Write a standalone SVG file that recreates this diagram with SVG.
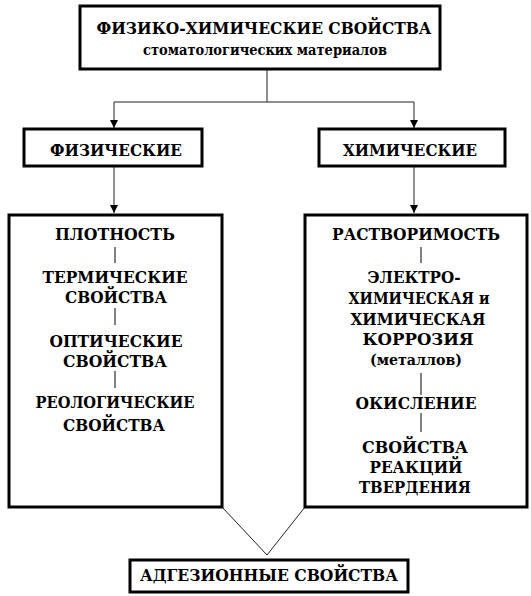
<svg xmlns="http://www.w3.org/2000/svg" width="531" height="596" viewBox="0 0 531 596">
<style>
.box{fill:#fff;stroke:#000;stroke-width:3}
.ln{fill:none;stroke:#222;stroke-width:1}
.sep{fill:none;stroke:#000;stroke-width:1}
.t,.s{font-family:"DejaVu Serif","Liberation Serif",serif;font-weight:bold;text-anchor:middle;fill:#000}
.t{font-size:17px}
.s{font-size:15px}
</style>
<defs>
<marker id="ar" viewBox="0 0 10 10" refX="10" refY="5" markerWidth="8" markerHeight="8" markerUnits="userSpaceOnUse" orient="auto">
<path d="M0,0 L10,5 L0,10 z" fill="#000"/>
</marker>
</defs>
<g id="connectors">
<path class="ln" d="M267,69 V102 M114,102 H414"/>
<path class="ln" d="M114,102 V128" marker-end="url(#ar)"/>
<path class="ln" d="M414,102 V128" marker-end="url(#ar)"/>
<path class="ln" d="M114,166 V213" marker-end="url(#ar)"/>
<path class="ln" d="M414,166 V213" marker-end="url(#ar)"/>
<path class="ln" d="M222,507 L267,555 L305,507"/>
</g>
<g id="top">
<rect class="box" x="80" y="6" width="360" height="63"/>
<text class="t" x="264" y="34" textLength="335" lengthAdjust="spacingAndGlyphs">ФИЗИКО-ХИМИЧЕСКИЕ СВОЙСТВА</text>
<text class="s" x="265" y="55" textLength="244" lengthAdjust="spacingAndGlyphs">стоматологических материалов</text>
</g>
<g id="physical">
<rect class="box" x="24" y="129" width="178" height="37"/>
<text class="t" x="116" y="156" textLength="132" lengthAdjust="spacingAndGlyphs">ФИЗИЧЕСКИЕ</text>
</g>
<g id="chemical">
<rect class="box" x="319" y="129" width="186" height="37"/>
<text class="t" x="410" y="156" textLength="134" lengthAdjust="spacingAndGlyphs">ХИМИЧЕСКИЕ</text>
</g>
<g id="physical-list">
<rect class="box" x="9" y="215" width="213" height="292"/>
<text class="t" x="115" y="240" textLength="120" lengthAdjust="spacingAndGlyphs">ПЛОТНОСТЬ</text>
<path class="sep" d="M115,247 V263 M115,308 V325 M115,371 V388"/>
<text class="t" x="115" y="283" textLength="145" lengthAdjust="spacingAndGlyphs">ТЕРМИЧЕСКИЕ</text>
<text class="t" x="116" y="303" textLength="102" lengthAdjust="spacingAndGlyphs">СВОЙСТВА</text>
<text class="t" x="116" y="347" textLength="133" lengthAdjust="spacingAndGlyphs">ОПТИЧЕСКИЕ</text>
<text class="t" x="115" y="367" textLength="104" lengthAdjust="spacingAndGlyphs">СВОЙСТВА</text>
<text class="t" x="115" y="408" textLength="159" lengthAdjust="spacingAndGlyphs">РЕОЛОГИЧЕСКИЕ</text>
<text class="t" x="114" y="431" textLength="102" lengthAdjust="spacingAndGlyphs">СВОЙСТВА</text>
</g>
<g id="chemical-list">
<rect class="box" x="305" y="215" width="222" height="292"/>
<text class="t" x="416" y="240" textLength="168" lengthAdjust="spacingAndGlyphs">РАСТВОРИМОСТЬ</text>
<path class="sep" d="M421,247 V263 M421,373 V395 M421,413 V432"/>
<text class="t" x="414" y="283" textLength="93" lengthAdjust="spacingAndGlyphs">ЭЛЕКТРО-</text>
<text class="t" x="419" y="304" textLength="141" lengthAdjust="spacingAndGlyphs">ХИМИЧЕСКАЯ и</text>
<text class="t" x="418" y="325" textLength="135" lengthAdjust="spacingAndGlyphs">ХИМИЧЕСКАЯ</text>
<text class="t" x="418" y="345" textLength="111" lengthAdjust="spacingAndGlyphs">КОРРОЗИЯ</text>
<text class="s" x="416" y="365" textLength="92" lengthAdjust="spacingAndGlyphs">(металлов)</text>
<text class="t" x="416" y="409" textLength="121" lengthAdjust="spacingAndGlyphs">ОКИСЛЕНИЕ</text>
<text class="t" x="415" y="453" textLength="106" lengthAdjust="spacingAndGlyphs">СВОЙСТВА</text>
<text class="t" x="416" y="473" textLength="93" lengthAdjust="spacingAndGlyphs">РЕАКЦИЙ</text>
<text class="t" x="415" y="493" textLength="112" lengthAdjust="spacingAndGlyphs">ТВЕРДЕНИЯ</text>
</g>
<g id="adhesive">
<rect class="box" x="130" y="560" width="278" height="32"/>
<text class="t" x="269" y="581" textLength="258" lengthAdjust="spacingAndGlyphs">АДГЕЗИОННЫЕ СВОЙСТВА</text>
</g>
</svg>
